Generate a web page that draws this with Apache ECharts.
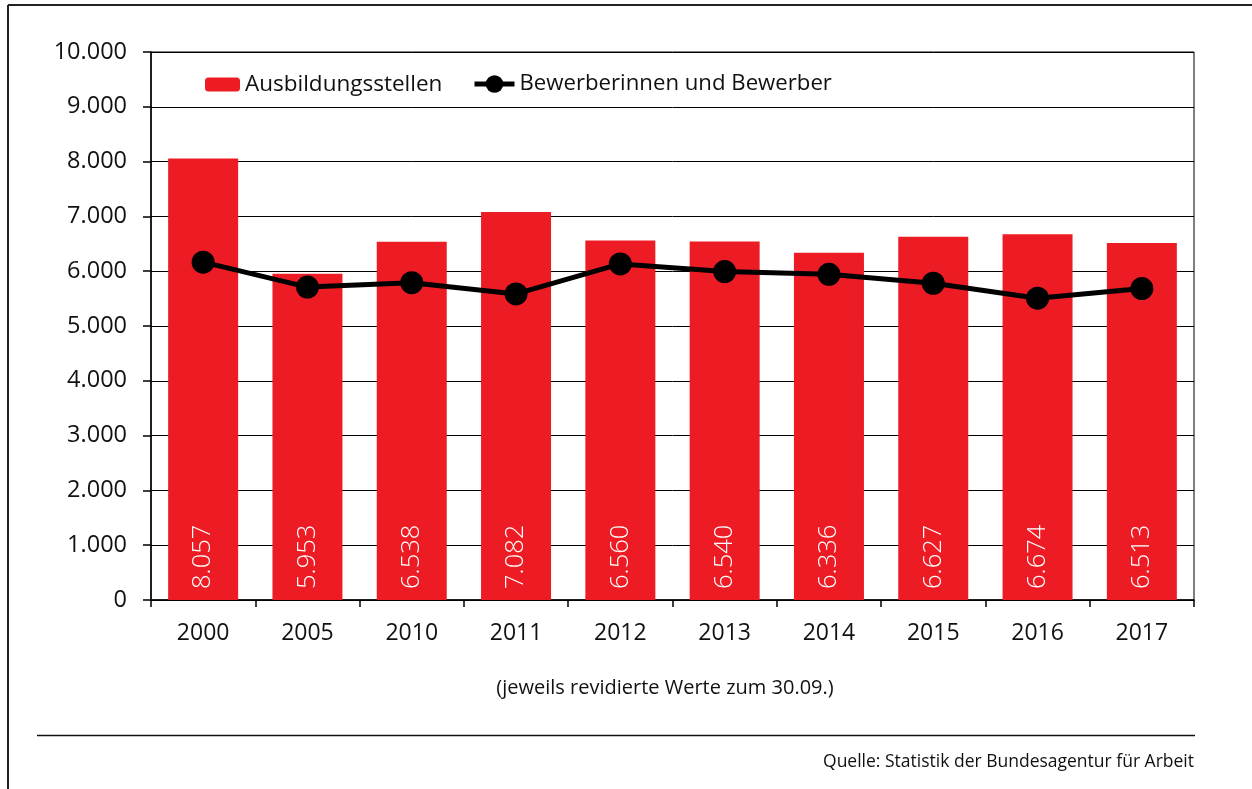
<!DOCTYPE html>
<html>
<head>
<meta charset="utf-8">
<script src="https://cdn.jsdelivr.net/npm/echarts@6/dist/echarts.min.js"></script>
<style>
html,body{margin:0;padding:0;background:#fff;}
#chart{width:1252px;height:789px;}
</style>
</head>
<body>
<div id="chart"></div>
<script>
const categories = ['2000','2005','2010','2011','2012','2013','2014','2015','2016','2017'];
const ausbildungsstellen = [8057, 5953, 6538, 7082, 6560, 6540, 6336, 6627, 6674, 6513];
const bewerber = [6165, 5710, 5790, 5585, 6132, 5993, 5943, 5780, 5507, 5683];
const yTicks = {min: 0, max: 10000, interval: 1000};
const seriesNames = ['Ausbildungsstellen', 'Bewerberinnen und Bewerber'];
const subtitle = '(jeweils revidierte Werte zum 30.09.)';
const source = 'Quelle: Statistik der Bundesagentur für Arbeit';

const FONT = 'Open Sans';
const fmt = v => String(v).replace(/\B(?=(\d{3})+(?!\d))/g, '.');

const chart = echarts.init(document.getElementById('chart'), null, {renderer: 'canvas'});
chart.setOption({
  backgroundColor: '#fff',
  animation: false,
  textStyle: {fontFamily: FONT},
  grid: {left: 151, right: 58, top: 52, bottom: 189, show: true, borderColor: '#000', borderWidth: 1, backgroundColor: 'transparent'},
  legend: [
    {
      data: [seriesNames[0]], left: 200, top: 68, itemWidth: 35, itemHeight: 14, itemGap: 8,
      textStyle: {fontFamily: FONT, fontSize: 22.5, color: '#111'}
    },
    {
      data: [seriesNames[1]], left: 467, top: 68, itemWidth: 40, itemHeight: 22, itemGap: 6,
      lineStyle: {width: 5, color: '#000'},
      itemStyle: {color: '#000'},
      textStyle: {fontFamily: FONT, fontSize: 22.2, color: '#111'}
    }
  ],
  xAxis: {
    type: 'category',
    data: categories,
    boundaryGap: true,
    axisLine: {lineStyle: {color: '#000', width: 1.5}},
    axisTick: {show: true, length: 7, alignWithLabel: false, lineStyle: {color: '#000', width: 1.5}},
    axisLabel: {color: '#111', fontSize: 23, fontFamily: FONT, margin: 22}
  },
  yAxis: {
    type: 'value',
    min: yTicks.min, max: yTicks.max, interval: yTicks.interval,
    axisLine: {show: true, lineStyle: {color: '#000', width: 1.5}},
    axisTick: {show: true, length: 8, lineStyle: {color: '#000', width: 1.5}},
    axisLabel: {color: '#111', fontSize: 23.5, fontFamily: FONT, margin: 24, formatter: fmt},
    splitLine: {show: true, lineStyle: {color: '#000', width: 1}}
  },
  series: [
    {
      name: seriesNames[0],
      type: 'bar',
      data: ausbildungsstellen,
      barWidth: 70,
      itemStyle: {color: '#ED1C24'},
      label: {
        show: true, position: 'insideBottom', rotate: 90, distance: 11,
        align: 'left', verticalAlign: 'middle',
        color: '#fff', fontSize: 25.5, fontFamily: FONT, fontWeight: 300,
        formatter: p => fmt(p.value)
      },
      z: 2
    },
    {
      name: seriesNames[1],
      type: 'line',
      data: bewerber,
      symbol: 'circle',
      symbolSize: 23,
      lineStyle: {color: '#000', width: 5},
      itemStyle: {color: '#000'},
      z: 3
    }
  ],
  graphic: [
    {type: 'line', shape: {x1: 8, y1: 5, x2: 1252, y2: 5}, style: {stroke: '#222', lineWidth: 2}},
    {type: 'line', shape: {x1: 8, y1: 5, x2: 8, y2: 789}, style: {stroke: '#222', lineWidth: 2}},
    {type: 'line', shape: {x1: 37, y1: 735.5, x2: 1195, y2: 735.5}, style: {stroke: '#111', lineWidth: 1.5}},
    {type: 'text', x: 665, y: 688, style: {text: subtitle, fontFamily: FONT, fontSize: 20, fill: '#111', align: 'center', verticalAlign: 'middle'}},
    {type: 'text', x: 1194, y: 762, style: {text: source, fontFamily: FONT, fontSize: 17.5, fill: '#111', align: 'right', verticalAlign: 'middle'}}
  ]
});
</script>
</body>
</html>
